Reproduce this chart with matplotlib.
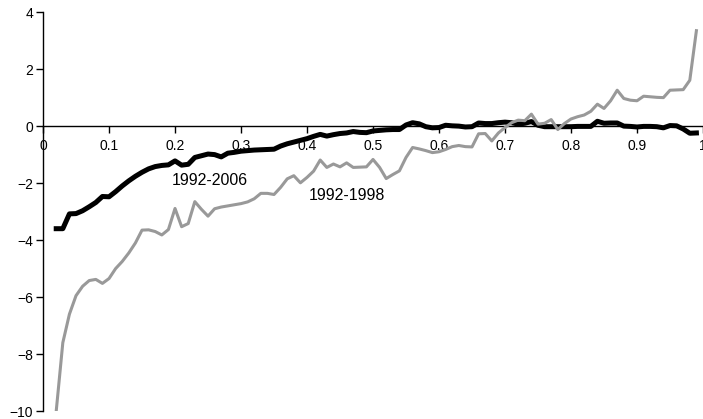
import numpy as np
import matplotlib
matplotlib.use("Agg")
import matplotlib.pyplot as plt

# percentile positions 0.02 .. 0.99
x = np.arange(2, 100) / 100

# 1992-2006 (black, thick)
y_2006 = [
    -3.60, -3.60, -3.08, -3.07, -2.97, -2.83, -2.68, -2.47, -2.48, -2.30,
    -2.10, -1.92, -1.76, -1.62, -1.50, -1.42, -1.38, -1.36, -1.22, -1.37,
    -1.34, -1.10, -1.04, -0.98, -1.00, -1.08, -0.95, -0.92, -0.88, -0.86,
    -0.84, -0.83, -0.82, -0.81, -0.70, -0.62, -0.56, -0.50, -0.44, -0.36,
    -0.29, -0.35, -0.30, -0.26, -0.24, -0.19, -0.22, -0.23, -0.17, -0.15,
    -0.13, -0.12, -0.12, 0.04, 0.12, 0.08, -0.02, -0.06, -0.05, 0.03,
    0.01, 0.00, -0.03, -0.02, 0.11, 0.09, 0.09, 0.12, 0.14, 0.12,
    0.07, 0.10, 0.16, 0.03, -0.02, -0.02, -0.02, -0.02, -0.02, -0.01,
    -0.01, -0.01, 0.17, 0.10, 0.11, 0.11, 0.00, -0.01, -0.03, -0.01,
    -0.01, -0.02, -0.06, 0.02, 0.01, -0.10, -0.25, -0.24,
]

# 1992-1998 (grey)
y_1998 = [
    -10.0, -7.60, -6.60, -5.95, -5.62, -5.42, -5.38, -5.52, -5.35, -5.00,
    -4.75, -4.45, -4.10, -3.65, -3.64, -3.70, -3.82, -3.63, -2.89, -3.53,
    -3.42, -2.65, -2.92, -3.16, -2.90, -2.84, -2.80, -2.76, -2.72, -2.66,
    -2.55, -2.36, -2.36, -2.40, -2.15, -1.85, -1.74, -1.99, -1.80, -1.58,
    -1.19, -1.45, -1.33, -1.43, -1.29, -1.45, -1.44, -1.43, -1.17, -1.45,
    -1.84, -1.70, -1.57, -1.10, -0.75, -0.80, -0.86, -0.93, -0.90, -0.82,
    -0.72, -0.68, -0.72, -0.73, -0.27, -0.26, -0.52, -0.24, -0.05, 0.12,
    0.21, 0.19, 0.42, 0.07, 0.10, 0.23, -0.12, 0.09, 0.25, 0.33,
    0.39, 0.52, 0.77, 0.62, 0.89, 1.26, 0.97, 0.91, 0.89, 1.05,
    1.03, 1.01, 1.00, 1.26, 1.27, 1.28, 1.61, 3.35,
]

xticks = [0, 0.1, 0.2, 0.3, 0.4, 0.5, 0.6, 0.7, 0.8, 0.9, 1]
xticklabels = ["0", "0.1", "0.2", "0.3", "0.4", "0.5", "0.6", "0.7", "0.8", "0.9", "1"]
yticks = [-10, -8, -6, -4, -2, 0, 2, 4]

plt.rcParams['font.family'] = ['Liberation Sans', 'DejaVu Sans']

fig = plt.figure(figsize=(7.03, 4.19), dpi=100)
ax = fig.add_axes([0.0612, 0.019, 0.9388, 0.952])

ax.plot(x, y_2006, color='black', linewidth=3.6, solid_joinstyle='round', zorder=3)
ax.plot(x, y_1998, color='#999999', linewidth=2.2, zorder=4)

ax.text(0.195, -1.9, '1992-2006', fontsize=11.5, ha='left', va='center')
ax.text(0.402, -2.42, '1992-1998', fontsize=11.5, ha='left', va='center')

ax.set_xlim(0, 1)
ax.set_ylim(-10, 4)
ax.set_xticks(xticks)
ax.set_xticklabels(xticklabels)
ax.set_yticks(yticks)

ax.spines['top'].set_visible(False)
ax.spines['right'].set_visible(False)
ax.spines['bottom'].set_position(('data', 0))
ax.spines['left'].set_linewidth(1.0)
ax.spines['bottom'].set_linewidth(1.0)
ax.tick_params(axis='both', direction='out', length=5, width=1, labelsize=10)
ax.tick_params(axis='y', pad=2)
ax.tick_params(axis='x', pad=4)
for lbl in ax.get_xticklabels():
    lbl.set_clip_on(False)

fig.savefig('out.png', dpi=100)
